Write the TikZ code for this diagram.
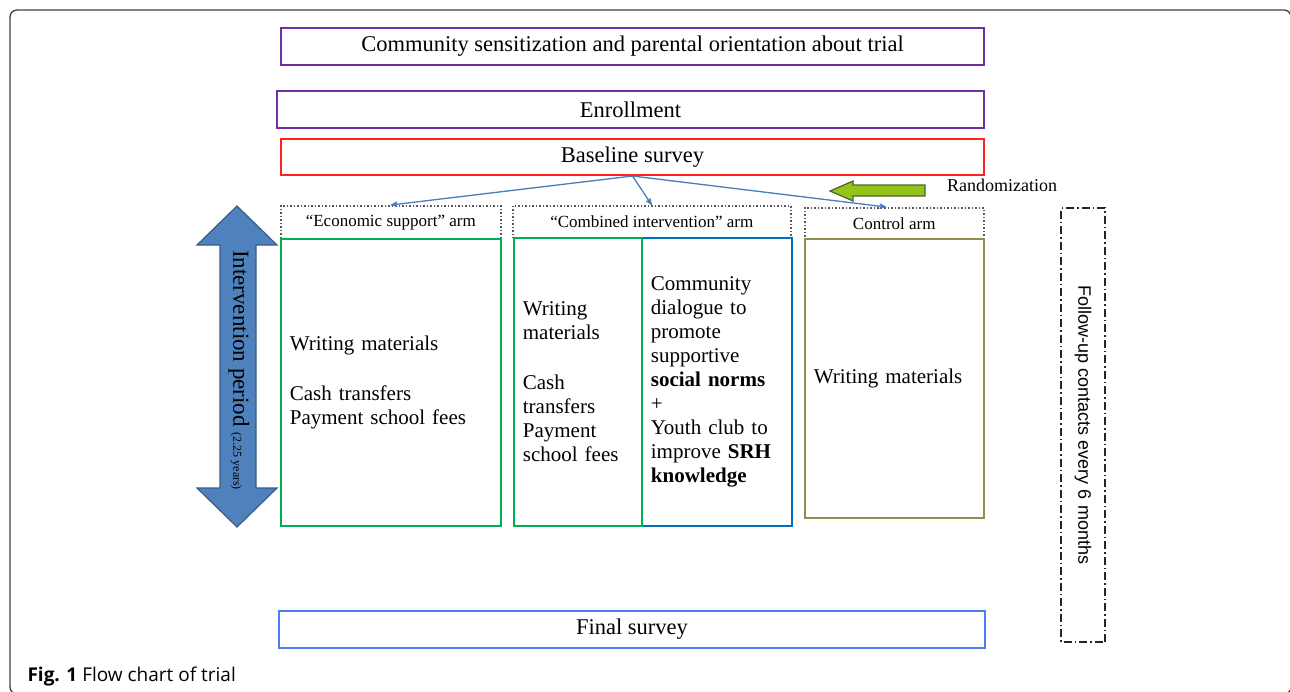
\documentclass[tikz,border=0pt]{standalone}
\usepackage{fontspec}
\setmainfont{Liberation Serif}
\newfontfamily\capfont{Open Sans}
\newfontfamily\followfont{Liberation Sans}
\usepackage{xcolor}
\usepackage{tikz}
\usetikzlibrary{arrows}
\definecolor{stagepurple}{HTML}{7030A0}
\definecolor{stagered}{HTML}{FF2020}
\definecolor{finalblue}{HTML}{4D7CF4}
\definecolor{armgreen}{HTML}{00B050}
\definecolor{armblue}{HTML}{0070C0}
\definecolor{armolive}{HTML}{948A54}
\definecolor{linkblue}{HTML}{4A7EBB}
\definecolor{periodfill}{HTML}{4F81BD}
\definecolor{perioddraw}{HTML}{385D8A}
\definecolor{randfill}{HTML}{92C41A}
\definecolor{randdraw}{HTML}{4F6228}
\tikzset{
  stage/.style={draw,line width=2pt,anchor=north west,inner sep=0pt,minimum height=37pt,font=\fontsize{22.5}{26}\selectfont},
  arm head/.style={draw=black!65,line width=1.5pt,dotted,anchor=north west,inner sep=0pt,font=\fontsize{17}{20}\selectfont},
  arm body/.style={draw,line width=1.8pt,anchor=north west,align=left,inner xsep=9pt,inner ysep=0pt,font=\fontsize{21}{24}\selectfont}
}

\begin{document}
\begin{tikzpicture}[x=1pt,y=-1pt,->,>=stealth']
	\useasboundingbox (0,0) rectangle (1290,691);
	\draw[-,line width=1.3pt,black!75,rounded corners=7pt] (10,10) rectangle (1291,694);
	% stages
	\node [stage,draw=stagepurple,minimum width=703pt] (comm) at (280,27) {Community sensitization and parental orientation about trial};
	\node [stage,draw=stagepurple,minimum width=707pt] (enrol) at (276,90) {Enrollment};
	\node [stage,draw=stagered,minimum width=703pt,minimum height=36pt] (base) at (280,138) {Baseline survey};
	\node [stage,draw=finalblue,minimum width=706pt] (final) at (278,610) {Final survey};
	% arms
	\node [arm head,minimum width=220pt,minimum height=33pt] (econhd) at (280,205) {``Economic support'' arm};
	\node [arm body,draw=armgreen,text width=202pt,minimum height=287pt] (econ) at (280,238)
	  {Writing materials\\[26pt]Cash transfers\\Payment school fees};
	\node [arm head,minimum width=278pt,minimum height=32pt] (combhd) at (512,205) {``Combined intervention'' arm};
	\node [arm body,draw=armblue,text width=132pt,minimum height=288pt] (combr) at (641,237)
	  {Community\\dialogue to\\promote\\supportive\\\textbf{social norms}\\+\\Youth club to\\improve \textbf{SRH}\\\textbf{knowledge}};
	\node [arm body,draw=armgreen,text width=110pt,minimum height=288pt] (combl) at (513,237)
	  {Writing\\materials\\[26pt]Cash\\transfers\\Payment\\school fees};
	\node [arm head,minimum width=179pt,minimum height=31pt] (ctrlhd) at (804,207) {Control arm};
	\node [arm body,draw=armolive,text width=161pt,minimum height=279pt] (ctrl) at (804,238) {Writing materials};
	% randomization
	\draw [line width=1.3pt,linkblue] (base.south) -- (econhd.north);
	\draw [line width=1.3pt,linkblue] (base.south) -- (combhd.north);
	\draw [line width=1.3pt,linkblue] (base.south) -- ([xshift=-8pt]ctrlhd.north);
	\filldraw [-,fill=randfill,draw=randdraw,line width=1.2pt] (830,191) -- (853,181) -- (853,185) -- (925,185)
	  -- (925,196) -- (853,196) -- (853,201) -- cycle;
	\node [font=\fontsize{18}{20}\selectfont] (rand) at (1002,185) {Randomization};
	% intervention period
	\filldraw [-,fill=periodfill,draw=perioddraw,line width=1.2pt] (237,206) -- (277,245) -- (256,245) -- (256,488)
	  -- (277,488) -- (237,527) -- (197,488) -- (220,488) -- (220,245) -- (197,245) -- cycle;
	\node [rotate=-90,font=\fontsize{23}{26}\selectfont] (period) at (239,370)
	  {Intervention period {\fontsize{12}{14}\selectfont(2.25 years)}};
	% follow-up
	\node [-,draw=black!85,line width=1.4pt,dash pattern=on 8pt off 3pt on 1.5pt off 3pt,rotate=-90,
	  minimum width=434pt,minimum height=44pt,inner sep=0pt,font=\followfont\fontsize{18}{20}\selectfont] (follow) at (1083,425)
	  {Follow-up contacts every 6 months};
	\node [anchor=base west,font=\capfont\fontsize{19}{22}\selectfont] (caption) at (24,681) {\textbf{Fig. 1} Flow chart of trial};
\end{tikzpicture}
\end{document}
